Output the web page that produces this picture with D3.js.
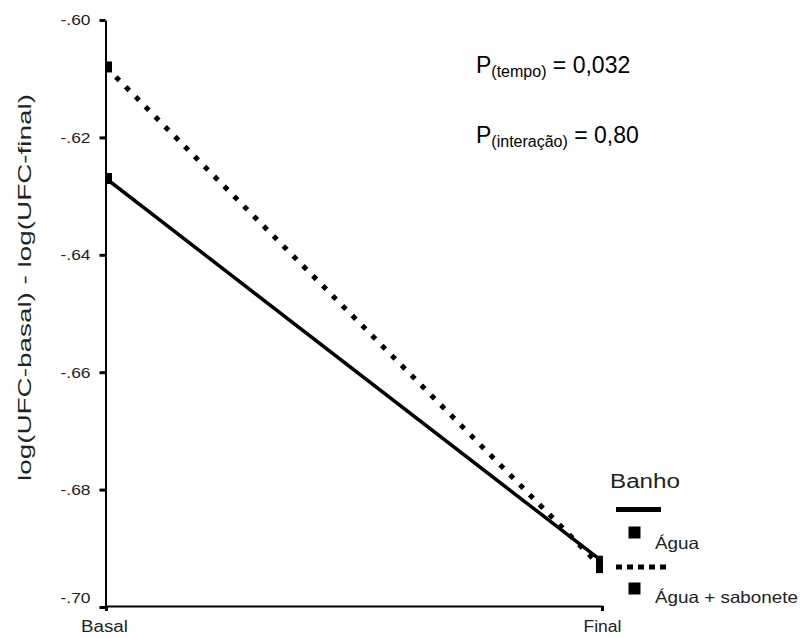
<!DOCTYPE html>
<html>
<head>
<meta charset="utf-8">
<script src="https://cdn.jsdelivr.net/npm/d3@7"></script>
<style>
  html, body { margin: 0; padding: 0; background: #fff; }
  svg { display: block; font-family: "Liberation Sans", Arial, sans-serif; }
</style>
</head>
<body>
<svg id="chart" width="804" height="638"></svg>
<script>
// ---- data ----
const categories = ["Basal", "Final"];
const seriesNames = ["Água", "Água + sabonete"];
const aguaValues = [-0.627, -0.6922];
const saboneteValues = [-0.608, -0.6933];
const yTicks = [-0.70, -0.68, -0.66, -0.64, -0.62, -0.60];
const yTickLabels = ["-.70", "-.68", "-.66", "-.64", "-.62", "-.60"];
const yDomain = [-0.70, -0.60];
const legendTitle = "Banho";
const yLabel = "log(UFC-basal) - log(UFC-final)";

const svg = d3.select("#chart");

const x = d3.scalePoint().domain(categories).range([106, 602]);
const y = d3.scaleLinear().domain(yDomain).range([607, 20]);

// clip for markers/lines
svg.append("defs").append("clipPath").attr("id", "plotClip")
  .append("rect")
  .attr("x", x(categories[0]))
  .attr("y", y(yDomain[1]) - 10)
  .attr("width", x(categories[1]) - x(categories[0]) + 1)
  .attr("height", y(yDomain[0]) - y(yDomain[1]) + 20);

// ---- y axis ----
const yAxis = svg.append("g")
  .attr("transform", `translate(${x(categories[0]) - 0.5},0)`)
  .call(d3.axisLeft(y)
    .tickValues(yTicks)
    .tickFormat((d, i) => yTickLabels[i])
    .tickSize(6)
    .tickPadding(9)
    .tickSizeOuter(0));
yAxis.select(".domain").attr("stroke", "#000").attr("stroke-width", 2);
yAxis.selectAll(".tick line").attr("stroke", "#000").attr("stroke-width", 3);
yAxis.selectAll(".tick text")
  .attr("font-size", 15)
  .attr("font-family", "Liberation Sans, Arial, sans-serif")
  .attr("fill", "#222")
  .attr("textLength", 30)
  .attr("lengthAdjust", "spacingAndGlyphs")
  .attr("dy", (d, i) => i === 0 ? "-0.3em" : "0.32em");

// ---- x axis ----
const xLabelLen = { Basal: 47, Final: 38 };
const xAxis = svg.append("g")
  .attr("transform", `translate(0,${y(yDomain[0]) - 1})`)
  .call(d3.axisBottom(x)
    .tickSize(5)
    .tickPadding(10)
    .tickSizeOuter(0));
xAxis.select(".domain").attr("stroke", "#000").attr("stroke-width", 2);
xAxis.selectAll(".tick line").attr("stroke", "#000").attr("stroke-width", 3);
xAxis.selectAll(".tick text")
  .attr("font-size", 16)
  .attr("font-family", "Liberation Sans, Arial, sans-serif")
  .attr("fill", "#222")
  .attr("x", (d, i) => i === 0 ? -2 : 0)
  .attr("textLength", d => xLabelLen[d])
  .attr("lengthAdjust", "spacingAndGlyphs");

// ---- y label ----
svg.append("text")
  .attr("transform", `translate(31,481) rotate(-90)`)
  .attr("font-size", 19)
  .attr("fill", "#222")
  .attr("textLength", 387)
  .attr("lengthAdjust", "spacingAndGlyphs")
  .text(yLabel);

// ---- lines ----
const series = [
  { name: seriesNames[0], values: aguaValues, dash: null, width: 3.5 },
  { name: seriesNames[1], values: saboneteValues, dash: "5 9", width: 5 }
];
const line = d3.line()
  .x((d, i) => x(categories[i]))
  .y(d => y(d));

const plot = svg.append("g").attr("clip-path", "url(#plotClip)");
series.forEach(s => {
  plot.append("path")
    .datum(s.values)
    .attr("d", line)
    .attr("fill", "none")
    .attr("stroke", "#000")
    .attr("stroke-width", s.width)
    .attr("stroke-dasharray", s.dash);
});
series.forEach(s => {
  plot.selectAll(null)
    .data(s.values)
    .enter().append("rect")
    .attr("x", (d, i) => x(categories[i]) - 6)
    .attr("y", d => y(d) - 5.5)
    .attr("width", 12)
    .attr("height", 11)
    .attr("fill", "#000");
});

// ---- P annotations ----
function pText(yBase, sub, val) {
  const t = svg.append("text")
    .attr("x", 476).attr("y", yBase)
    .attr("font-size", 23).attr("fill", "#000");
  t.append("tspan").text("P");
  t.append("tspan").attr("font-size", 16).attr("dy", 4).text(sub);
  t.append("tspan").attr("dy", -4).text(" = " + val);
}
pText(73, "(tempo)", "0,032");
pText(143, "(interação)", "0,80");

// ---- legend ----
const lg = svg.append("g");
lg.append("text").attr("x", 610).attr("y", 488)
  .attr("font-size", 20).attr("fill", "#222")
  .attr("textLength", 70).attr("lengthAdjust", "spacingAndGlyphs")
  .text(legendTitle);
const legendRows = [
  { lineY: 509.5, dash: null, sqY: 532.5, textY: 549, len: 44 },
  { lineY: 567, dash: "6 5", sqY: 588.5, textY: 603, len: 143 }
];
legendRows.forEach((r, i) => {
  lg.append("line")
    .attr("x1", 616).attr("x2", i === 0 ? 661 : 666)
    .attr("y1", r.lineY).attr("y2", r.lineY)
    .attr("stroke", "#000").attr("stroke-width", 5)
    .attr("stroke-dasharray", r.dash);
  lg.append("rect")
    .attr("x", 628.5).attr("y", r.sqY - 6)
    .attr("width", 12).attr("height", 12)
    .attr("fill", "#000");
  lg.append("text")
    .attr("x", 655).attr("y", r.textY)
    .attr("font-size", 16.5).attr("fill", "#222")
    .attr("textLength", r.len).attr("lengthAdjust", "spacingAndGlyphs")
    .text(seriesNames[i]);
});
</script>
</body>
</html>
